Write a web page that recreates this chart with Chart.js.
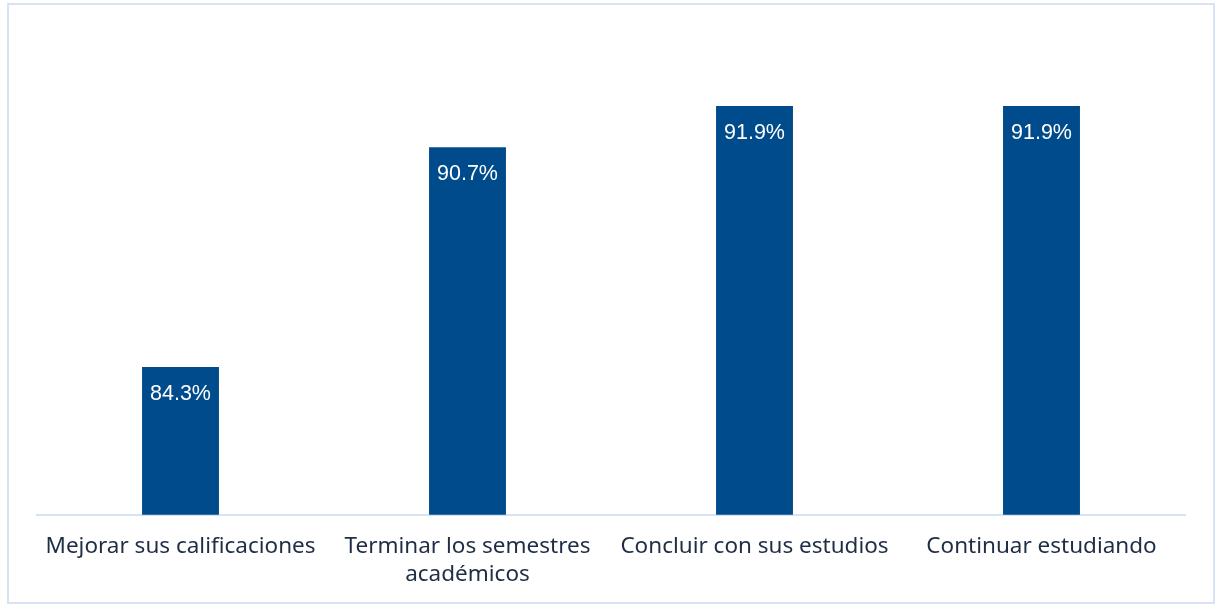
<!DOCTYPE html>
<html>
<head>
<meta charset="utf-8">
<script src="https://cdn.jsdelivr.net/npm/chart.js@4.4.0/dist/chart.umd.min.js"></script>
<style>
  html, body { margin: 0; padding: 0; background: #fff; }
  #wrap { position: relative; width: 1217px; height: 605px; }
</style>
</head>
<body>
<div id="wrap"><canvas id="chart" width="1217" height="605"></canvas></div>
<script>
const categories = [
  'Mejorar sus calificaciones',
  ['Terminar los semestres', 'académicos'],
  'Concluir con sus estudios',
  'Continuar estudiando'
];
const values = [84.3, 90.7, 91.9, 91.9];
const axisMin = 80;
const axisMax = 94;

// frame around the chart
const framePlugin = {
  id: 'frame',
  beforeDraw(chart) {
    const c = chart.ctx;
    c.save();
    c.strokeStyle = '#d5e3f4';
    c.lineWidth = 2;
    c.strokeRect(8, 4, 1206, 599);
    c.restore();
  }
};

// value labels inside top of bars
const labelPlugin = {
  id: 'barLabels',
  afterDatasetsDraw(chart) {
    const c = chart.ctx;
    const meta = chart.getDatasetMeta(0);
    c.save();
    c.fillStyle = '#ffffff';
    c.font = '21.5px "Liberation Sans", Arial, sans-serif';
    c.textAlign = 'center';
    c.textBaseline = 'middle';
    meta.data.forEach((bar, i) => {
      c.fillText(values[i].toFixed(1) + '%', bar.x, bar.y + 27);
    });
    c.restore();
  }
};

new Chart(document.getElementById('chart'), {
  type: 'bar',
  data: {
    labels: categories,
    datasets: [{
      data: values,
      backgroundColor: '#004b8c',
      categoryPercentage: 1,
      barPercentage: 0.268
    }]
  },
  options: {
    responsive: false,
    animation: false,
    layout: { padding: { left: 37, right: 32, top: 34, bottom: 6 } },
    plugins: { legend: { display: false }, tooltip: { enabled: false } },
    scales: {
      y: {
        display: false,
        min: axisMin,
        max: axisMax
      },
      x: {
        grid: { display: false },
        border: { display: true, color: '#d5e3f4', width: 2 },
        ticks: {
          color: '#1f2d45',
          padding: 10,
          maxRotation: 0,
          font: { family: '"Noto Sans", sans-serif', size: 22.5, lineHeight: 1.25 }
        }
      }
    }
  },
  plugins: [framePlugin, labelPlugin]
});
</script>
</body>
</html>
